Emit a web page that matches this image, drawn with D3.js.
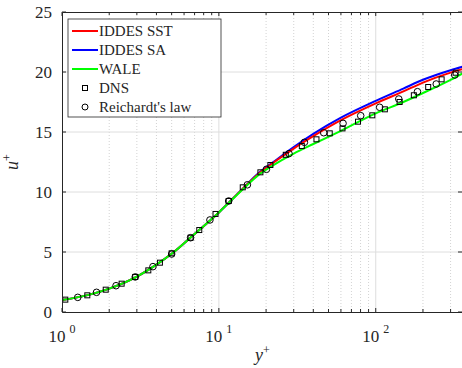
<!DOCTYPE html>
<html>
<head>
    <title>u+ profile</title>
    <script src="https://d3js.org/d3.v7.min.js"></script>
    <style>
        body { margin: 0; background: #fff; }
    </style>
</head>
<body>
    <div id="chart"></div>

    <script>
        // data (y+, u+)
        var seriesNames = ["IDDES SST", "IDDES SA", "WALE", "DNS", "Reichardt's law"];

        var yPlus = [1, 1.5, 2, 3, 4, 5, 7, 10, 14, 18, 22, 30, 40, 60, 100, 150, 200, 300, 360];
        var iddesSST = [1.0, 1.45, 1.95, 2.95, 3.95, 4.85, 6.5, 8.3, 10.2, 11.55, 12.4, 13.62, 14.65, 15.98, 17.38, 18.38, 19.12, 19.95, 20.25];
        var iddesSA  = [1.0, 1.45, 1.95, 2.95, 3.95, 4.85, 6.5, 8.3, 10.2, 11.6, 12.45, 13.75, 14.85, 16.2, 17.6, 18.62, 19.35, 20.15, 20.45];
        var wale     = [1.0, 1.45, 1.95, 2.95, 3.95, 4.85, 6.5, 8.3, 10.15, 11.45, 12.2, 13.2, 14.0, 15.1, 16.55, 17.5, 18.25, 19.35, 19.9];

        var dnsY = [1.05, 1.45, 1.9, 2.4, 2.93, 3.55, 4.21, 5.0, 6.6, 7.5, 9.52, 11.55, 14.2, 18.4, 21.3, 26.7, 33.8, 41.9, 50.9, 61.4, 77.1, 95.1, 114.3, 142, 175, 216, 263, 323];
        var dnsU = [1.03, 1.39, 1.86, 2.36, 2.92, 3.47, 4.11, 4.89, 6.19, 6.83, 8.17, 9.25, 10.39, 11.64, 12.25, 13.1, 13.83, 14.39, 14.89, 15.3, 15.86, 16.39, 16.89, 17.5, 18.06, 18.75, 19.39, 19.94];

        var reichY = [1.26, 1.66, 2.21, 2.93, 3.8, 5.0, 6.6, 8.77, 11.55, 15.2, 20.1, 28.0, 35.1, 46.6, 61.9, 80.2, 105.9, 140.3, 184.5, 243, 319];
        var reichU = [1.22, 1.64, 2.19, 2.92, 3.78, 4.83, 6.19, 7.67, 9.25, 10.6, 11.89, 13.2, 14.14, 14.94, 15.72, 16.36, 17.06, 17.75, 18.36, 19.0, 19.75];

        var xMajor = [1, 10, 100];
        var xMinor = [2, 3, 4, 5, 6, 7, 8, 9, 20, 30, 40, 50, 60, 70, 80, 90, 200, 300];
        var xExp = ["0", "1", "2"];
        var yTicks = [0, 5, 10, 15, 20, 25];

        // Step 1: dimensions
        var W = 462, H = 368;
        var margin = {top: 12, left: 62, bottom: 56};
        var width = 401, height = H - margin.top - margin.bottom;

        var svg = d3.select("#chart")
                    .append("svg")
                    .attr("width", W)
                    .attr("height", H)
                    .attr("font-family", "'Liberation Serif', 'Times New Roman', 'DejaVu Serif', serif")
                    .attr("fill", "#262626");
        var g = svg.append("g")
                   .attr("transform", "translate(" + margin.left + "," + margin.top + ")");

        // Step 2: scales
        var x = d3.scaleLog().domain([1, 360]).range([0, width]);
        var y = d3.scaleLinear().domain([0, 25]).range([height, 0]);

        // Step 3: grid
        g.append("g").selectAll("line")
         .data(xMinor).enter().append("line")
         .attr("x1", function(d) { return x(d); }).attr("x2", function(d) { return x(d); })
         .attr("y1", 0).attr("y2", height)
         .attr("stroke", "#c8c8c8").attr("stroke-width", 0.8)
         .attr("stroke-dasharray", "1,2");

        g.append("g").selectAll("line")
         .data(xMajor.slice(1)).enter().append("line")
         .attr("x1", function(d) { return x(d); }).attr("x2", function(d) { return x(d); })
         .attr("y1", 0).attr("y2", height)
         .attr("stroke", "#dedede").attr("stroke-width", 1);

        g.append("g").selectAll("line")
         .data(yTicks.slice(1, -1)).enter().append("line")
         .attr("x1", 0).attr("x2", width)
         .attr("y1", function(d) { return y(d); }).attr("y2", function(d) { return y(d); })
         .attr("stroke", "#dedede").attr("stroke-width", 1);

        // Step 4: curves
        svg.append("clipPath").attr("id", "clip")
           .append("rect").attr("width", width).attr("height", height);

        var line = d3.line()
                     .curve(d3.curveMonotoneX)
                     .x(function(d) { return x(d[0]); })
                     .y(function(d) { return y(d[1]); });

        var curves = [
            {vals: iddesSST, color: "#ff0000"},
            {vals: iddesSA, color: "#0000ff"},
            {vals: wale, color: "#00ff00"}
        ];
        [curves[1], curves[0], curves[2]].forEach(function(c) {
            g.append("path")
             .datum(d3.zip(yPlus, c.vals))
             .attr("clip-path", "url(#clip)")
             .attr("d", line)
             .attr("fill", "none")
             .attr("stroke", c.color)
             .attr("stroke-width", 2);
        });

        // Step 5: markers
        g.append("g").selectAll("rect")
         .data(d3.zip(dnsY, dnsU)).enter().append("rect")
         .attr("x", function(d) { return x(d[0]) - 2.5; })
         .attr("y", function(d) { return y(d[1]) - 2.5; })
         .attr("width", 5).attr("height", 5)
         .attr("fill", "none").attr("stroke", "#000").attr("stroke-width", 1);

        g.append("g").selectAll("circle")
         .data(d3.zip(reichY, reichU)).enter().append("circle")
         .attr("cx", function(d) { return x(d[0]); })
         .attr("cy", function(d) { return y(d[1]); })
         .attr("r", 3.3)
         .attr("fill", "none").attr("stroke", "#000").attr("stroke-width", 1);

        // Step 6: axes (ticks point inward)
        var xAll = xMajor.concat(xMinor);
        g.append("g").attr("transform", "translate(0," + height + ")")
         .call(d3.axisBottom(x).tickValues(xAll).tickSize(0).tickFormat(""))
         .call(function(a) { a.select(".domain").attr("stroke", "#262626"); });
        g.append("g")
         .call(d3.axisTop(x).tickValues(xAll).tickSize(0).tickFormat(""))
         .call(function(a) { a.select(".domain").attr("stroke", "#262626"); });
        g.append("g")
         .call(d3.axisLeft(y).tickValues(yTicks).tickSize(0).tickFormat(""))
         .call(function(a) { a.select(".domain").attr("stroke", "#262626"); });

        var tickLen = function(d) { return xMajor.indexOf(d) >= 0 ? 4 : 3; };
        g.append("g").selectAll("line").data(xAll).enter().append("line")
         .attr("x1", function(d) { return x(d); }).attr("x2", function(d) { return x(d); })
         .attr("y1", height).attr("y2", function(d) { return height - tickLen(d); })
         .attr("stroke", "#262626");
        g.append("g").selectAll("line").data(xAll).enter().append("line")
         .attr("x1", function(d) { return x(d); }).attr("x2", function(d) { return x(d); })
         .attr("y1", 0).attr("y2", function(d) { return tickLen(d); })
         .attr("stroke", "#262626");
        g.append("g").selectAll("line").data(yTicks).enter().append("line")
         .attr("x1", 0).attr("x2", 4)
         .attr("y1", function(d) { return y(d); }).attr("y2", function(d) { return y(d); })
         .attr("stroke", "#262626");
        g.append("g").selectAll("line").data(yTicks).enter().append("line")
         .attr("x1", width).attr("x2", width - 5)
         .attr("y1", function(d) { return y(d); }).attr("y2", function(d) { return y(d); })
         .attr("stroke", "#262626");

        // tick labels
        g.append("g").selectAll("text").data(yTicks).enter().append("text")
         .attr("x", -10).attr("y", function(d) { return y(d); })
         .attr("dy", "0.35em")
         .style("text-anchor", "end").style("font-size", "17px")
         .text(function(d) { return d; });

        var xl = g.append("g").selectAll("text").data(xMajor).enter().append("text")
         .attr("x", function(d) { return x(d); })
         .attr("y", height + 30)
         .style("text-anchor", "middle").style("font-size", "17px");
        xl.append("tspan").text("10");
        xl.append("tspan").attr("dx", 4).attr("dy", -9).style("font-size", "12px")
          .text(function(d, i) { return xExp[i]; });

        // Step 7: axis labels
        var xt = svg.append("text")
           .attr("x", margin.left + width / 2).attr("y", 361)
           .style("text-anchor", "middle").style("font-size", "18px");
        xt.append("tspan").style("font-style", "italic").text("y");
        xt.append("tspan").attr("dy", -7).style("font-size", "12px").text("+");

        var yt = svg.append("text")
           .attr("transform", "translate(18," + (margin.top + height / 2) + ") rotate(-90)")
           .style("text-anchor", "middle").style("font-size", "18px");
        yt.append("tspan").style("font-style", "italic").text("u");
        yt.append("tspan").attr("dy", -7).style("font-size", "12px").text("+");

        // Step 8: legend
        var leg = svg.append("g").attr("transform", "translate(68,19)");
        leg.append("rect").attr("width", 153).attr("height", 98)
           .attr("fill", "#fff").attr("stroke", "#262626").attr("stroke-width", 0.8);
        var legColors = ["#ff0000", "#0000ff", "#00ff00"];
        seriesNames.forEach(function(name, i) {
            var ly = 12 + i * 19;
            if (i < 3) {
                leg.append("line").attr("x1", 4).attr("x2", 30)
                   .attr("y1", ly).attr("y2", ly)
                   .attr("stroke", legColors[i]).attr("stroke-width", 2);
            } else if (i == 3) {
                leg.append("rect").attr("x", 14.5).attr("y", ly - 2.5)
                   .attr("width", 5).attr("height", 5)
                   .attr("fill", "none").attr("stroke", "#000");
            } else {
                leg.append("circle").attr("cx", 17).attr("cy", ly).attr("r", 3)
                   .attr("fill", "none").attr("stroke", "#000");
            }
            leg.append("text").attr("x", 31).attr("y", ly).attr("dy", "0.35em")
               .style("font-size", "15px").text(name);
        });
    </script>
</body>
</html>
